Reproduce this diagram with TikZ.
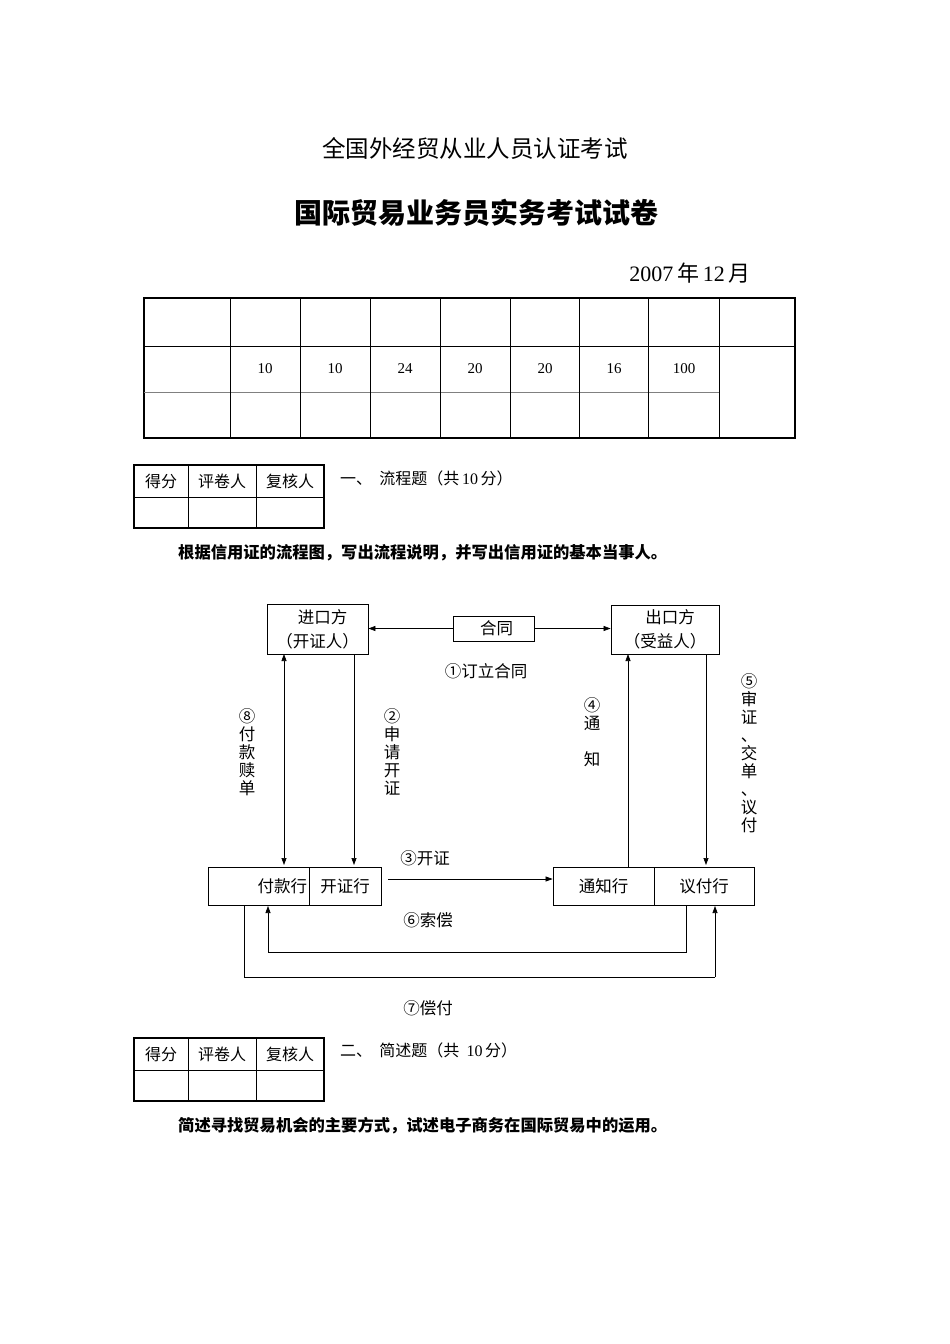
\documentclass[tikz,border=0pt]{standalone}
\usepackage{fontspec}
\setmainfont{Liberation Serif}
\newfontfamily\cjk{Noto Sans CJK SC}
\usetikzlibrary{arrows.meta}
\begin{document}
\begin{tikzpicture}[x=1pt,y=-1pt,
  box/.style={draw,line width=0.8pt,inner sep=0pt},
  lbl/.style={font=\cjk\fontsize{16.5}{18}\selectfont,inner sep=0pt},
  vlbl/.style={font=\cjk\fontsize{16.5}{18}\selectfont,inner sep=0pt,align=center,anchor=north},
  tb/.style={font=\cjk\fontsize{16}{18}\selectfont,inner sep=0pt},
  num/.style={font=\fontsize{15}{17}\selectfont,inner sep=0pt},
  arr/.style={-{Triangle[length=7pt,width=5pt]},line width=0.7pt},
  ln/.style={line width=0.7pt}]
\useasboundingbox[fill=white] (0,0) rectangle (950,1344);
% titles
\node[font=\cjk\fontsize{23.5}{25}\selectfont] (t1) at (475,148) {全国外经贸从业人员认证考试};
\node[font=\cjk\bfseries\fontsize{28}{30}\selectfont] (t2) at (476,213) {国际贸易业务员实务考试试卷};
\node[anchor=east,font=\fontsize{22}{24}\selectfont] (date) at (754,273) {2007\,{\cjk 年}\,12\,{\cjk 月}};
% big table
\draw[line width=1.3pt] (144,298) rectangle (795,438);
\draw[line width=0.8pt] (144,346) -- (795,346);
\draw[line width=0.6pt,gray] (144,392) -- (719,392);
\foreach \x in {230,300,370,440,510,579,648,719} \draw[line width=0.7pt] (\x,298) -- (\x,438);
\foreach \x/\v [count=\i] in {265/10,335/10,405/24,475/20,545/20,614/16,684/100}
  \node[num] (n\i) at (\x,369) {\v};
% small table 1
\draw[line width=1.3pt] (134,465) rectangle (324,528);
\draw[line width=0.7pt] (134,497) -- (324,497);
\draw[line width=0.7pt] (188,465) -- (188,528) (256,465) -- (256,528);
\node[tb] (a1) at (161,481) {得分};
\node[tb] (a2) at (222,481) {评卷人};
\node[tb] (a3) at (290,481) {复核人};
\node[tb,anchor=west] (q1) at (340,478) {一、\ \ 流程题（共\,{\fontspec{Liberation Serif}10}\,分）};
\node[tb,anchor=west,font=\cjk\bfseries\fontsize{16.3}{18}\selectfont] (q1t) at (178,553) {根据信用证的流程图，写出流程说明，并写出信用证的基本当事人。};
% diagram
\node[box,minimum width=101pt,minimum height=50pt,align=center,font=\cjk\fontsize{16.5}{24}\selectfont] (imp) at (317.5,629) {\hspace*{10pt}进口方\\（开证人）};
\node[box,minimum width=81pt,minimum height=25pt,font=\cjk\fontsize{16.5}{18}\selectfont] (con) at (493.5,628.5) {\hspace*{6pt}合同};
\node[box,minimum width=108pt,minimum height=49pt,align=center,font=\cjk\fontsize{16.5}{24}\selectfont] (exp) at (665,629.5) {\hspace*{10pt}出口方\\（受益人）};
\draw[arr] (con.west) -- (con.west -| imp.east);
\draw[arr] (con.east) -- (con.east -| exp.west);
\node[lbl] (l1) at (486,671) {①订立合同};
% banks
\node[box,minimum width=101pt,minimum height=38pt,text width=97pt,align=right,font=\cjk\fontsize{16.5}{18}\selectfont] (pay) at (258.5,886) {付款行};
\node[box,minimum width=72pt,minimum height=38pt,font=\cjk\fontsize{16.5}{18}\selectfont] (iss) at (345,886) {开证行};
\node[box,minimum width=101pt,minimum height=38pt,font=\cjk\fontsize{16.5}{18}\selectfont] (adv) at (603.5,886) {通知行};
\node[box,minimum width=100pt,minimum height=38pt,font=\cjk\fontsize{16.5}{18}\selectfont] (neg) at (704,886) {议付行};
\coordinate (p8t) at (284,654); \coordinate (p8b) at (284,865);
\draw[{Triangle[length=7pt,width=5pt]}-{Triangle[length=7pt,width=5pt]},line width=0.7pt] (p8t) -- (p8b);
\draw[arr] (354,654) -- (354,865);
\draw[arr] (628,867) -- (628,654);
\draw[arr] (706,654) -- (706,865);
\draw[arr] (388,879) -- (adv.west |- 0,879);
\node[lbl] (l3) at (425,858) {③开证};
\node[vlbl] (l8) at (247,708) {⑧\\付\\款\\赎\\单};
\node[vlbl] (l2) at (392,708) {②\\申\\请\\开\\证};
\node[vlbl] (l4) at (592,697) {④\\通\\ \\知};
\node[vlbl] (l5) at (749,673) {⑤\\审\\证\\、\\交\\单\\、\\议\\付};
% 6 and 7
\coordinate (c6a) at (686,905); \coordinate (c6b) at (686,952); \coordinate (c6c) at (268,952);
\draw[ln] (c6a) -- (c6b) -- (c6c);
\draw[arr] (c6c) -- (268,906);
\node[lbl] (l6) at (428,920) {⑥索偿};
\coordinate (c7a) at (244,905); \coordinate (c7b) at (244,977); \coordinate (c7c) at (715,977);
\draw[ln] (c7a) -- (c7b) -- (c7c);
\draw[arr] (c7c) -- (715,906);
\node[lbl] (l7) at (428,1008) {⑦偿付};
% small table 2
\draw[line width=1.3pt] (134,1038) rectangle (324,1101);
\draw[line width=0.7pt] (134,1070) -- (324,1070);
\draw[line width=0.7pt] (188,1038) -- (188,1101) (256,1038) -- (256,1101);
\node[tb] (b1) at (161,1054) {得分};
\node[tb] (b2) at (222,1054) {评卷人};
\node[tb] (b3) at (290,1054) {复核人};
\node[tb,anchor=west] (q2) at (340,1050) {二、\ \ 简述题（共\ \ {\fontspec{Liberation Serif}10}\,分）};
\node[tb,anchor=west,font=\cjk\bfseries\fontsize{16.3}{18}\selectfont] (q2t) at (178,1126) {简述寻找贸易机会的主要方式，试述电子商务在国际贸易中的运用。};
\end{tikzpicture}
\end{document}
